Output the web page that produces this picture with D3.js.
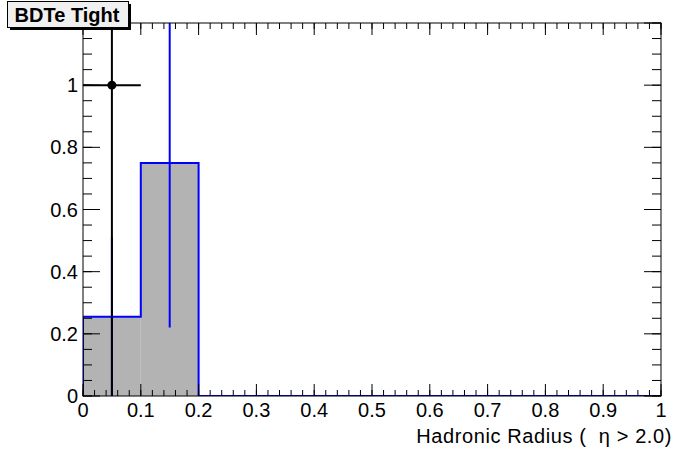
<!DOCTYPE html>
<html>
<head>
<meta charset="utf-8">
<script src="https://cdn.jsdelivr.net/npm/d3@7"></script>
<style>
  body { margin: 0; background: #fff; }
  svg { display: block; font-family: "Liberation Sans", Arial, sans-serif; }
</style>
</head>
<body>
<div id="chart"></div>
<script>
// histogram (MC) : bin edges, contents, errors
const binEdges = [0, 0.1, 0.2, 0.3, 0.4, 0.5, 0.6, 0.7, 0.8, 0.9, 1.0];
const mcValues = [0.255, 0.75, 0, 0, 0, 0, 0, 0, 0, 0];
const mcErrors = [0.255, 0.53, 0, 0, 0, 0, 0, 0, 0, 0];

// data points
const dataX = [0.05];
const dataY = [1];
const dataYErr = [1];
const dataXErr = [0.05];

const xTicks = [0, 0.1, 0.2, 0.3, 0.4, 0.5, 0.6, 0.7, 0.8, 0.9, 1];
const yTicks = [0, 0.2, 0.4, 0.6, 0.8, 1, 1.2];
const xTitle = "Hadronic Radius (  \u03b7 > 2.0)";
const titleText = "BDTe Tight";

const size = {
  width: 696,
  height: 472,
  left: 83,
  right: 661,
  top: 23,
  bottom: 396
};

const x = d3.scaleLinear().domain([0, 1]).range([size.left, size.right]);
const y = d3.scaleLinear().domain([0, 1.2]).range([size.bottom, size.top]);

const svg = d3.select("#chart").append("svg")
  .attr("width", size.width)
  .attr("height", size.height);

svg.append("defs").append("clipPath").attr("id", "frame")
  .append("rect")
  .attr("x", size.left).attr("y", size.top)
  .attr("width", size.right - size.left).attr("height", size.bottom - size.top);

const plot = svg.append("g").attr("clip-path", "url(#frame)");

// histogram fill + outline
const bins = mcValues.map((v, i) => ({ x0: binEdges[i], x1: binEdges[i + 1], v, e: mcErrors[i] }));

plot.selectAll("rect.bin").data(bins.filter(b => b.v > 0)).join("rect")
  .attr("class", "bin")
  .attr("x", b => x(b.x0))
  .attr("y", b => y(b.v))
  .attr("width", b => x(b.x1) - x(b.x0))
  .attr("height", b => y(0) - y(b.v))
  .attr("fill", "#b3b3b3");

const stepPts = [];
bins.forEach(b => { stepPts.push([b.x0, b.v]); stepPts.push([b.x1, b.v]); });
stepPts.unshift([0, 0]);
plot.append("path")
  .attr("d", d3.line().x(d => x(d[0])).y(d => y(d[1]))(stepPts))
  .attr("fill", "none")
  .attr("stroke", "#0000ff")
  .attr("stroke-width", 2);

// histogram error bars
plot.selectAll("line.mcerr").data(bins.filter(b => b.e > 0)).join("line")
  .attr("class", "mcerr")
  .attr("x1", b => x((b.x0 + b.x1) / 2))
  .attr("x2", b => x((b.x0 + b.x1) / 2))
  .attr("y1", b => y(b.v - b.e))
  .attr("y2", b => y(b.v + b.e))
  .attr("stroke", "#0000ff")
  .attr("stroke-width", 2);

// data points with errors
const pts = dataX.map((d, i) => ({ x: d, y: dataY[i], ey: dataYErr[i], ex: dataXErr[i] }));
plot.selectAll("line.vy").data(pts).join("line")
  .attr("x1", d => x(d.x)).attr("x2", d => x(d.x))
  .attr("y1", d => y(d.y - d.ey)).attr("y2", d => y(d.y + d.ey))
  .attr("stroke", "#000").attr("stroke-width", 2);
plot.selectAll("line.vx").data(pts).join("line")
  .attr("x1", d => x(d.x - d.ex)).attr("x2", d => x(d.x + d.ex))
  .attr("y1", d => y(d.y)).attr("y2", d => y(d.y))
  .attr("stroke", "#000").attr("stroke-width", 2);
plot.selectAll("circle").data(pts).join("circle")
  .attr("cx", d => x(d.x)).attr("cy", d => y(d.y))
  .attr("r", 4.5).attr("fill", "#000");

// frame
svg.append("rect")
  .attr("x", size.left).attr("y", size.top)
  .attr("width", size.right - size.left).attr("height", size.bottom - size.top)
  .attr("fill", "none").attr("stroke", "#000").attr("stroke-width", 1);

// axes (ROOT style ticks inside the frame, on both sides)
const xMinor = d3.range(0, 1.0001, 0.02);
const yMinor = d3.range(0, 1.2001, 0.05);

const axX = svg.append("g").attr("class", "axes");
function tickLines(g, data, fn) {
  g.selectAll(null).data(data).join("line")
    .each(function (d) { const s = d3.select(this); Object.entries(fn(d)).forEach(([k, v]) => s.attr(k, v)); })
    .attr("stroke", "#000").attr("stroke-width", 1);
}
tickLines(axX, xMinor, d => ({ x1: x(d), x2: x(d), y1: size.bottom, y2: size.bottom - 6 }));
tickLines(axX, xTicks, d => ({ x1: x(d), x2: x(d), y1: size.bottom, y2: size.bottom - 12 }));
tickLines(axX, xMinor, d => ({ x1: x(d), x2: x(d), y1: size.top, y2: size.top + 6 }));
tickLines(axX, xTicks, d => ({ x1: x(d), x2: x(d), y1: size.top, y2: size.top + 12 }));
tickLines(axX, yMinor, d => ({ x1: size.left, x2: size.left + 9, y1: y(d), y2: y(d) }));
tickLines(axX, yTicks, d => ({ x1: size.left, x2: size.left + 17, y1: y(d), y2: y(d) }));
tickLines(axX, yMinor, d => ({ x1: size.right, x2: size.right - 9, y1: y(d), y2: y(d) }));
tickLines(axX, yTicks, d => ({ x1: size.right, x2: size.right - 17, y1: y(d), y2: y(d) }));

const fmt = d => d3.format("~g")(d);
svg.selectAll("text.xt").data(xTicks).join("text")
  .attr("class", "xt")
  .attr("x", d => x(d)).attr("y", size.bottom + 21)
  .attr("text-anchor", "middle")
  .attr("font-size", 20)
  .text(fmt);
svg.selectAll("text.yt").data(yTicks).join("text")
  .attr("class", "yt")
  .attr("x", size.left - 5).attr("y", d => y(d) + 7)
  .attr("text-anchor", "end")
  .attr("font-size", 20)
  .text(fmt);

svg.append("text")
  .attr("x", 672).attr("y", 443)
  .attr("text-anchor", "end")
  .attr("font-size", 20)
  .attr("letter-spacing", 0.6)
  .style("white-space", "pre")
  .text(xTitle);

// title box with shadow
const tb = svg.append("g");
tb.append("rect").attr("x", 10).attr("y", 4).attr("width", 121).attr("height", 26).attr("fill", "#000");
tb.append("rect").attr("x", 7.5).attr("y", 1.5).attr("width", 121).attr("height", 26)
  .attr("fill", "#f0f0f0").attr("stroke", "#000").attr("stroke-width", 1);
tb.append("text")
  .attr("x", 67).attr("y", 21.5)
  .attr("text-anchor", "middle")
  .attr("font-size", 20).attr("font-weight", "bold")
  .text(titleText);
</script>
</body>
</html>
